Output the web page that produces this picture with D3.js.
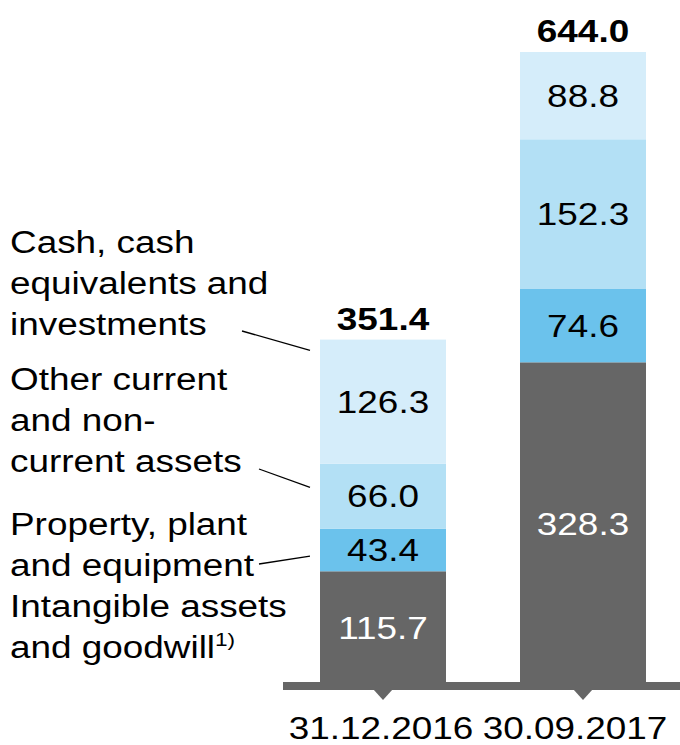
<!DOCTYPE html>
<html>
<head>
<meta charset="utf-8">
<script src="https://cdn.jsdelivr.net/npm/d3@7"></script>
<style>
  body { margin: 0; background: #fff; }
  text { font-family: "Liberation Sans", Arial, sans-serif; }
</style>
</head>
<body>
<div id="chart"></div>
<script>
const dates = ["31.12.2016", "30.09.2017"];
const intangibles = [115.7, 328.3];
const ppe = [43.4, 74.6];
const otherAssets = [66.0, 152.3];
const cash = [126.3, 88.8];
const totals = [351.4, 644.0];

const seriesNames = ["intangibles", "ppe", "other", "cash"];
const colors = ["#666666", "#6bc2ec", "#b3e0f5", "#d5edfa"];
const textColors = ["#ffffff", "#000000", "#000000", "#000000"];

const legendLabels = [
  ["Intangible assets", "and goodwill"],
  ["Property, plant", "and equipment"],
  ["Other current", "and non-", "current assets"],
  ["Cash, cash", "equivalents and", "investments"]
];

const W = 680, H = 745;
const SX = 1.19; // text in the reference is stretched horizontally

const table = dates.map((d, i) => ({
  date: d,
  intangibles: intangibles[i],
  ppe: ppe[i],
  other: otherAssets[i],
  cash: cash[i]
}));

const stack = d3.stack().keys(seriesNames)(table);

const svg = d3.select("#chart").append("svg")
  .attr("width", W)
  .attr("height", H);

const x = d3.scalePoint().domain(dates).range([383, 583]);
const barW = 126;
const y = d3.scaleLinear().domain([0, 644]).range([685, 52]);

// stacked segments
const layers = svg.selectAll(".layer")
  .data(stack)
  .enter()
  .append("g")
  .attr("class", "layer")
  .attr("fill", (d, i) => colors[i]);

layers.selectAll("rect")
  .data(d => d)
  .enter()
  .append("rect")
  .attr("x", d => x(d.data.date) - barW / 2)
  .attr("y", d => y(d[1]))
  .attr("width", barW)
  .attr("height", d => y(d[0]) - y(d[1]));

// segment values
stack.forEach((layer, li) => {
  svg.selectAll(".val" + li)
    .data(layer)
    .enter()
    .append("text")
    .attr("class", "val" + li)
    .attr("transform", d => `translate(${x(d.data.date)},${(y(d[0]) + y(d[1])) / 2 + 11}) scale(${SX},1)`)
    .attr("text-anchor", "middle")
    .attr("font-size", 31)
    .attr("fill", textColors[li])
    .text(d => (d[1] - d[0]).toFixed(1));
});

// totals
svg.selectAll(".total")
  .data(totals)
  .enter()
  .append("text")
  .attr("class", "total")
  .attr("transform", (d, i) => `translate(${x(dates[i])},${y(d) - 10}) scale(${SX},1)`)
  .attr("text-anchor", "middle")
  .attr("font-size", 31)
  .attr("font-weight", "bold")
  .attr("fill", "#000")
  .text(d => d.toFixed(1));

// axis band with triangle ticks
svg.append("rect")
  .attr("x", 283)
  .attr("y", 682)
  .attr("width", W - 283)
  .attr("height", 8)
  .attr("fill", "#666666");

svg.selectAll(".tick")
  .data(dates)
  .enter()
  .append("path")
  .attr("class", "tick")
  .attr("d", d => `M${x(d) - 10},689 L${x(d) + 10},689 L${x(d)},700 Z`)
  .attr("fill", "#666666");

// category labels
svg.selectAll(".xlabel")
  .data(dates)
  .enter()
  .append("text")
  .attr("class", "xlabel")
  .attr("transform", (d, i) => `translate(${i === dates.length - 1 ? x(d) - 8 : x(d) - 2},739) scale(${SX},1)`)
  .attr("text-anchor", "middle")
  .attr("font-size", 31)
  .attr("fill", "#000")
  .text(d => d);

// legend labels on the left
const legendTop = [617, 535, 390, 253];
const lineH = 41;
legendLabels.forEach((lines, li) => {
  lines.forEach((ln, j) => {
    const t = svg.append("text")
      .attr("transform", `translate(10,${legendTop[li] + j * lineH}) scale(${SX},1)`)
      .attr("font-size", 31)
      .attr("fill", "#000")
      .text(ln);
    if (li === 0 && j === lines.length - 1) {
      t.append("tspan")
        .attr("font-size", 19)
        .attr("dy", -12)
        .text("1)");
    }
  });
});

// leader lines from labels into the first bar
const x0 = x(dates[0]) - barW / 2;
const leaders = [
  { from: [242, 331], v: totals[0] - 11 },
  { from: [259, 469], v: intangibles[0] + ppe[0] + otherAssets[0] - 24 },
  { from: [259, 564], v: intangibles[0] + ppe[0] - 28 }
];
svg.selectAll(".leader")
  .data(leaders)
  .enter()
  .append("line")
  .attr("class", "leader")
  .attr("x1", d => d.from[0])
  .attr("y1", d => d.from[1])
  .attr("x2", x0 - 10)
  .attr("y2", d => y(d.v))
  .attr("stroke", "#000")
  .attr("stroke-width", 1.3);
</script>
</body>
</html>
